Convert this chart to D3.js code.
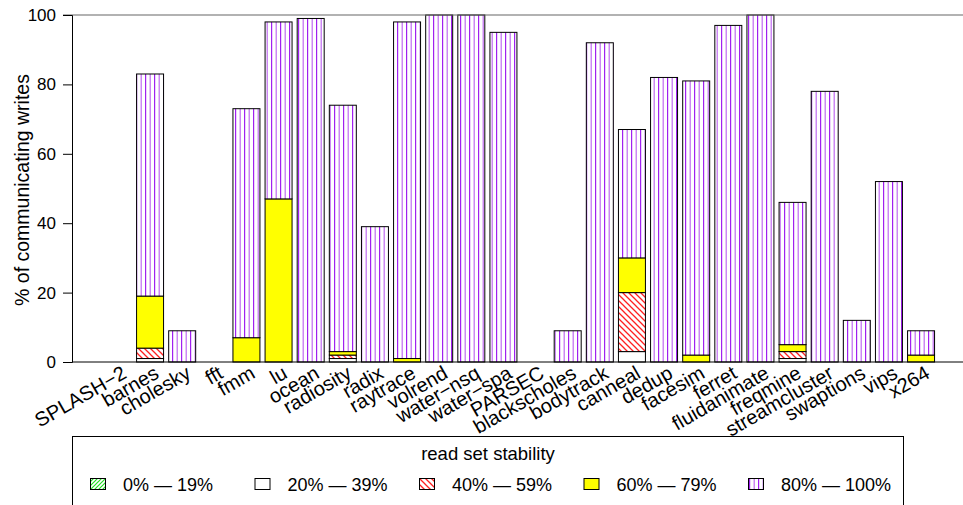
<!DOCTYPE html>
<html>
<head>
<meta charset="utf-8">
<script src="https://cdn.jsdelivr.net/npm/d3@7"></script>
<style>
  body { margin: 0; background: #fff; }
  svg { display: block; font-family: "Liberation Sans", Arial, Helvetica, sans-serif; }
</style>
</head>
<body>
<div id="chart"></div>
<script>
// Data
const categories = ["SPLASH\u22122", "barnes", "cholesky", "fft", "fmm", "lu", "ocean", "radiosity", "radix",
  "raytrace", "volrend", "water\u2212nsq", "water\u2212spa", "PARSEC", "blackscholes", "bodytrack", "canneal",
  "dedup", "facesim", "ferret", "fluidanimate", "freqmine", "streamcluster", "swaptions", "vips", "x264"];
const seriesNames = ["0% \u2014 19%", "20% \u2014 39%", "40% \u2014 59%", "60% \u2014 79%", "80% \u2014 100%"];
const stab0to19   = [0, 0, 0, 0, 0, 0, 0, 0, 0, 0, 0, 0, 0, 0, 0, 0, 0, 0, 0, 0, 0, 0, 0, 0, 0, 0];
const stab20to39  = [0, 1, 0, 0, 0, 0, 0, 1, 0, 0, 0, 0, 0, 0, 0, 0, 3, 0, 0, 0, 0, 1, 0, 0, 0, 0];
const stab40to59  = [0, 3, 0, 0, 0, 0, 0, 1, 0, 0, 0, 0, 0, 0, 0, 0, 17, 0, 0, 0, 0, 2, 0, 0, 0, 0];
const stab60to79  = [0, 15, 0, 0, 7, 47, 0, 1, 0, 1, 0, 0, 0, 0, 0, 0, 10, 0, 2, 0, 0, 2, 0, 0, 0, 2];
const stab80to100 = [0, 64, 9, 0, 66, 51, 99, 71, 39, 97, 100, 100, 95, 0, 9, 92, 37, 82, 79, 97, 100, 41, 78, 12, 52, 7];
const yTicks = [0, 20, 40, 60, 80, 100];

const seriesData = [stab0to19, stab20to39, stab40to59, stab60to79, stab80to100];
const rows = categories.map((c, i) => {
  const r = { cat: c };
  seriesNames.forEach((s, k) => r[s] = seriesData[k][i]);
  return r;
});

const W = 963, H = 505;
const plotL = 72, plotR = 967, plotT = 15, plotB = 362;

const svg = d3.select("#chart").append("svg")
  .attr("width", W).attr("height", H);

// patterns
const defs = svg.append("defs");
const pGreen = defs.append("pattern").attr("id", "pGreen")
  .attr("patternUnits", "userSpaceOnUse").attr("width", 4).attr("height", 4);
pGreen.append("rect").attr("width", 4).attr("height", 4).attr("fill", "#fff");
pGreen.append("path").attr("d", "M-1,1 l2,-2 M0,4 l4,-4 M3,5 l2,-2")
  .attr("stroke", "#22dd22").attr("stroke-width", 1.2);

const pRed = defs.append("pattern").attr("id", "pRed")
  .attr("patternUnits", "userSpaceOnUse").attr("width", 6).attr("height", 6);
pRed.append("rect").attr("width", 6).attr("height", 6).attr("fill", "#fff");
pRed.append("path").attr("d", "M-1,-1 l8,8 M-4,2 l8,8 M2,-4 l8,8")
  .attr("stroke", "#ff2020").attr("stroke-width", 1.3);

const pPurple = defs.append("pattern").attr("id", "pPurple")
  .attr("patternUnits", "userSpaceOnUse").attr("width", 9).attr("height", 9);
pPurple.append("rect").attr("width", 9).attr("height", 9).attr("fill", "#fff");
pPurple.append("rect").attr("x", 1).attr("width", 1.2).attr("height", 9).attr("fill", "#a020f0");
pPurple.append("rect").attr("x", 5.5).attr("width", 1.5).attr("height", 9).attr("fill", "#cc88f4");

const fills = ["url(#pGreen)", "#ffffff", "url(#pRed)", "#ffff00", "url(#pPurple)"];

const x = d3.scaleBand().domain(categories).range([plotL, plotR])
  .paddingInner(0.16).paddingOuter(1.01);
const y = d3.scaleLinear().domain([0, 100]).range([plotB, plotT]);

const stack = d3.stack().keys(seriesNames);
const layers = stack(rows);

svg.append("g").selectAll("g")
  .data(layers)
  .join("g")
    .attr("fill", (d, i) => fills[i])
  .selectAll("rect")
  .data(d => d)
  .join("rect")
    .attr("x", d => x(d.data.cat))
    .attr("width", x.bandwidth())
    .attr("y", d => y(d[1]))
    .attr("height", d => y(d[0]) - y(d[1]))
    .attr("stroke", d => (d[1] - d[0] > 0 || d[1] === 0) ? "#000" : "none")
    .attr("stroke-width", 1);

// top border
svg.append("line")
  .attr("x1", plotL - 9).attr("x2", W + 5)
  .attr("y1", y(100)).attr("y2", y(100))
  .attr("stroke", "#666").attr("stroke-width", 1.2);

// y axis
const yAxis = svg.append("g")
  .attr("transform", `translate(${plotL},0)`)
  .call(d3.axisLeft(y).tickValues(yTicks).tickSize(9).tickPadding(7));
yAxis.select(".domain").attr("stroke", "#000");
yAxis.selectAll("text").attr("font-size", 17).attr("fill", "#000")
  .attr("font-family", "'Liberation Sans', Arial, sans-serif");

// x axis baseline
svg.append("line")
  .attr("x1", plotL).attr("x2", W + 5)
  .attr("y1", plotB).attr("y2", plotB)
  .attr("stroke", "#000").attr("stroke-width", 1);

// x labels
svg.append("g").selectAll("text")
  .data(categories)
  .join("text")
    .attr("transform", d => `translate(${x(d) + x.bandwidth() / 2 + 10},${plotB + 15}) rotate(-30)`)
    .attr("text-anchor", "end")
    .attr("font-size", 20)
    .text(d => d);

// y title
svg.append("text")
  .attr("transform", `translate(29,190) rotate(-90)`)
  .attr("text-anchor", "middle")
  .attr("font-size", 19.5)
  .text("% of communicating writes");

// legend
const lg = svg.append("g");
lg.append("rect")
  .attr("x", plotL + 0.5).attr("y", 436.5).attr("width", 831).attr("height", 90)
  .attr("fill", "none").attr("stroke", "#000");
lg.append("text")
  .attr("x", 488).attr("y", 460)
  .attr("text-anchor", "middle").attr("font-size", 18.5)
  .text("read set stability");
const items = lg.selectAll("g.item")
  .data(seriesNames)
  .join("g").attr("class", "item")
  .attr("transform", (d, i) => `translate(${90 + i * 164.5},478)`);
items.append("rect")
  .attr("x", 0.5).attr("y", 0.5).attr("width", 15).attr("height", 11)
  .attr("fill", (d, i) => fills[i]).attr("stroke", "#000");
items.append("text")
  .attr("x", 33).attr("y", 12.5)
  .attr("font-size", 18)
  .text(d => d);
</script>
</body>
</html>
